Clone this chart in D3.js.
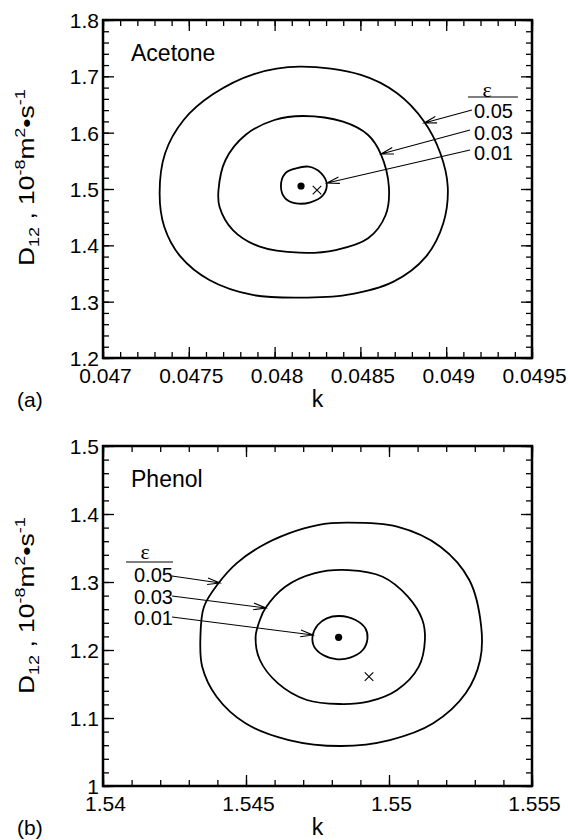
<!DOCTYPE html>
<html lang="en">
<head>
<meta charset="utf-8">
<title>D12 vs k</title>
<script src="https://cdn.jsdelivr.net/npm/d3@7"></script>
<style>
  body { margin: 0; background: #fff; }
  text { font-family: "Liberation Sans", Arial, sans-serif; fill: #000; }
  .tick line { stroke: #000; stroke-width: 1.3px; }
  .frame { fill: none; stroke: #000; stroke-width: 2.5px; }
  .contour { fill: none; stroke: #000; stroke-width: 1.8px; }
  .arrow { fill: none; stroke: #000; stroke-width: 1.1px; }
</style>
</head>
<body>
<div id="chart"></div>
<script>
// contour levels (epsilon)
var levels = ["0.05", "0.03", "0.01"];

// ---- (a) acetone ----
var acetoneXTicks = [0.047, 0.0475, 0.048, 0.0485, 0.049, 0.0495];
var acetoneXLabels = ["0.047", "0.0475", "0.048", "0.0485", "0.049", "0.0495"];
var acetoneYTicks = [1.2, 1.3, 1.4, 1.5, 1.6, 1.7, 1.8];
var acetoneYLabels = ["1.2", "1.3", "1.4", "1.5", "1.6", "1.7", "1.8"];

// contour points [k, D12]
var acetone05 = [[0.048146, 1.7171], [0.048503, 1.7024], [0.048714, 1.6699], [0.048872, 1.6195],
  [0.048966, 1.5634], [0.049009, 1.5041], [0.048983, 1.4391], [0.048882, 1.3799],
  [0.048693, 1.3355], [0.048420, 1.3119], [0.048146, 1.3071], [0.047872, 1.3119],
  [0.047620, 1.3385], [0.047452, 1.3799], [0.047357, 1.4331], [0.047330, 1.4924],
  [0.047362, 1.5634], [0.047470, 1.6225], [0.047640, 1.6680], [0.047880, 1.7040]];
var acetone03 = [[0.048167, 1.6296], [0.048399, 1.6195], [0.048545, 1.5959], [0.048619, 1.5621],
  [0.048666, 1.5041], [0.048647, 1.4539], [0.048545, 1.4125], [0.048356, 1.3917],
  [0.048146, 1.3869], [0.047914, 1.3976], [0.047757, 1.4272], [0.047679, 1.4686],
  [0.047673, 1.4982], [0.047714, 1.5515], [0.047830, 1.5959], [0.047999, 1.6225]];
var acetone01 = [[0.048125, 1.5367], [0.048199, 1.5396], [0.048272, 1.5279], [0.048304, 1.5089],
  [0.048283, 1.4894], [0.048209, 1.4764], [0.048125, 1.4746], [0.048062, 1.4835],
  [0.048037, 1.5041], [0.048062, 1.5279]];
var acetoneBest = [0.048154, 1.5053];
var acetoneCross = [0.048247, 1.498];
// leader arrows [kFrom, DFrom, kTo, DTo]
var acetoneArrows = [[0.049150, 1.6402, 0.048871, 1.6172],
  [0.049139, 1.6047, 0.048620, 1.5621],
  [0.049139, 1.5692, 0.048305, 1.5107]];
var acetoneLegendAt = [[0.049162, 1.6385], [0.049162, 1.5994], [0.049162, 1.5639]];
var acetoneEpsAt = [0.049238, 1.6757];
var acetoneRule = [0.049127, 0.049418, 1.6633];

// ---- (b) phenol ----
var phenolXTicks = [1.54, 1.545, 1.55, 1.555];
var phenolXLabels = ["1.54", "1.545", "1.55", "1.555"];
var phenolYTicks = [1.0, 1.1, 1.2, 1.3, 1.4, 1.5];
var phenolYLabels = ["1", "1.1", "1.2", "1.3", "1.4", "1.5"];

var phenol05 = [[1.548517, 1.3872], [1.550283, 1.3814], [1.551797, 1.3519], [1.552808, 1.3029],
  [1.553224, 1.2343], [1.553186, 1.1853], [1.552682, 1.1363], [1.551546, 1.0922],
  [1.550031, 1.0676], [1.548328, 1.0588], [1.546497, 1.0676], [1.544982, 1.0922],
  [1.543972, 1.1313], [1.543469, 1.1754], [1.543406, 1.2196], [1.543531, 1.2637],
  [1.544035, 1.2981], [1.544668, 1.3275], [1.545490, 1.3519], [1.546497, 1.3716],
  [1.547507, 1.3838]];
var phenol03 = [[1.548580, 1.3176], [1.549779, 1.3078], [1.550661, 1.2784], [1.551168, 1.2441],
  [1.551256, 1.2147], [1.551041, 1.1755], [1.550283, 1.1412], [1.549273, 1.1240],
  [1.548266, 1.1206], [1.547128, 1.1265], [1.546119, 1.1510], [1.545486, 1.1853],
  [1.545336, 1.2196], [1.545486, 1.2441], [1.545675, 1.2613], [1.546371, 1.2931],
  [1.547381, 1.3128]];
var phenol01 = [[1.548266, 1.2500], [1.548832, 1.2441], [1.549172, 1.2319], [1.549248, 1.2172],
  [1.549084, 1.2000], [1.548643, 1.1887], [1.548200, 1.1863], [1.547696, 1.1926],
  [1.547381, 1.2049], [1.547329, 1.2206], [1.547507, 1.2368], [1.547822, 1.2466]];
var phenolBest = [1.548238, 1.2187];
var phenolCross = [1.549301, 1.1608];
var phenolArrows = [[1.542413, 1.3088, 1.544091, 1.2985],
  [1.542413, 1.2794, 1.545699, 1.2618],
  [1.542413, 1.2485, 1.547343, 1.2221]];
var phenolLegendAt = [[1.541084, 1.3103], [1.541084, 1.2779], [1.541084, 1.2471]];
var phenolEpsAt = [1.541469, 1.3441];
var phenolRule = [1.540804, 1.542448, 1.3294];

var W = 568, H = 840;
var svg = d3.select("#chart").append("svg")
    .attr("width", W)
    .attr("height", H);

function drawPanel(p) {
  var left = 103, top = p.top, w = 429, h = p.h;
  var g = svg.append("g").attr("transform", "translate(" + left + "," + top + ")");

  var x = d3.scaleLinear().domain(p.xDomain).range([0, w]);
  var y = d3.scaleLinear().domain(p.yDomain).range([h, 0]);

  var minorX = d3.range(p.xMinorN + 1).map(function(i) { return p.xDomain[0] + i * (p.xDomain[1] - p.xDomain[0]) / p.xMinorN; });
  var minorY = d3.range(p.yMinorN + 1).map(function(i) { return p.yDomain[0] + i * (p.yDomain[1] - p.yDomain[0]) / p.yMinorN; });

  function ax(gen, scale, vals, size, labels, pad, tr) {
    var a = gen(scale).tickValues(vals).tickSize(-size).tickPadding(pad);
    a.tickFormat(labels ? function(d, i) { return labels[i]; } : "");
    var s = g.append("g").attr("transform", tr || null).call(a);
    s.select(".domain").remove();
    s.selectAll("text").style("font-size", "21px");
    return s;
  }
  // minor ticks, all four sides
  ax(d3.axisBottom, x, minorX, 6, null, 0, "translate(0," + h + ")");
  ax(d3.axisTop, x, minorX, 6, null, 0);
  ax(d3.axisLeft, y, minorY, 6, null, 0);
  ax(d3.axisRight, y, minorY, 6, null, 0, "translate(" + w + ",0)");
  // major ticks
  var xb = ax(d3.axisBottom, x, p.xTicks, 11, p.xLabels, 10, "translate(0," + h + ")");
  xb.selectAll("text").attr("x", 2);
  ax(d3.axisTop, x, p.xTicks, 11, null, 0);
  var yl = ax(d3.axisLeft, y, p.yTicks, 11, p.yLabels, 4);
  yl.selectAll("text").attr("dy", "0.36em");
  ax(d3.axisRight, y, p.yTicks, 11, null, 0, "translate(" + w + ",0)");

  g.append("rect").attr("class", "frame").attr("width", w).attr("height", h);

  var line = d3.line()
      .x(function(d) { return x(d[0]); })
      .y(function(d) { return y(d[1]); })
      .curve(d3.curveCatmullRomClosed.alpha(0.5));

  g.selectAll(".contour").data(p.contours).enter().append("path")
      .attr("class", "contour")
      .attr("d", line);

  g.append("circle")
      .attr("cx", x(p.best[0])).attr("cy", y(p.best[1])).attr("r", 3.6);

  var cx = x(p.cross[0]), cy = y(p.cross[1]), c = 4.3;
  g.append("path").attr("class", "arrow").attr("stroke-width", 1.2)
      .attr("d", "M" + (cx - c) + "," + (cy - c) + "L" + (cx + c) + "," + (cy + c) +
                 "M" + (cx - c) + "," + (cy + c) + "L" + (cx + c) + "," + (cy - c));

  // leader arrows with open heads
  p.arrows.forEach(function(a) {
    var x1 = x(a[0]), y1 = y(a[1]), x2 = x(a[2]), y2 = y(a[3]);
    var ang = Math.atan2(y2 - y1, x2 - x1), L = 13, th = 0.26;
    var b1 = [x2 - L * Math.cos(ang - th), y2 - L * Math.sin(ang - th)];
    var b2 = [x2 - L * Math.cos(ang + th), y2 - L * Math.sin(ang + th)];
    g.append("path").attr("class", "arrow")
        .attr("d", "M" + x1 + "," + y1 + "L" + x2 + "," + y2 +
                   "M" + b1 + "L" + x2 + "," + y2 + "L" + b2);
  });

  g.selectAll(".lev").data(levels).enter().append("text")
      .attr("class", "lev")
      .attr("x", function(d, i) { return x(p.legendAt[i][0]); })
      .attr("y", function(d, i) { return y(p.legendAt[i][1]); })
      .attr("dy", "0.36em")
      .style("font-size", "20px")
      .text(function(d) { return d; });

  g.append("text")
      .attr("x", x(p.epsAt[0])).attr("y", y(p.epsAt[1])).attr("dy", "0.3em")
      .attr("text-anchor", "middle")
      .style("font-family", "'Liberation Serif', serif").style("font-size", "22px")
      .text("ε");
  g.append("line")
      .attr("x1", x(p.rule[0])).attr("x2", x(p.rule[1]))
      .attr("y1", y(p.rule[2])).attr("y2", y(p.rule[2]))
      .attr("stroke", "#000").attr("stroke-width", 1.1);

  g.append("text").attr("x", 28).attr("y", 41).style("font-size", "23px").text(p.name);

  g.append("text").attr("x", w / 2).attr("y", h + 49)
      .attr("text-anchor", "middle").style("font-size", "23px").text("k");
  g.append("text").attr("x", 17 - left).attr("y", h + 49)
      .style("font-size", "21px").text(p.tag);

  // y axis title
  var t = g.append("text")
      .attr("transform", "translate(" + (34 - left) + "," + (h - 92) + ") rotate(-90) scale(1.2,1)")
      .style("font-size", "22px");
  t.append("tspan").text("D");
  t.append("tspan").attr("dy", 5).style("font-size", "15px").text("12");
  t.append("tspan").attr("dy", -5).text(" , 10");
  t.append("tspan").attr("dy", -9).style("font-size", "15px").text("-8");
  t.append("tspan").attr("dy", 9).text("m");
  t.append("tspan").attr("dy", -9).style("font-size", "15px").text("2");
  t.append("tspan").attr("dy", 9).text("\u2022s");
  t.append("tspan").attr("dy", -9).style("font-size", "15px").text("-1");
}

drawPanel({
  top: 20, h: 338, name: "Acetone", tag: "(a)",
  xDomain: [0.047, 0.0495], yDomain: [1.2, 1.8], xMinorN: 25, yMinorN: 30,
  xTicks: acetoneXTicks, xLabels: acetoneXLabels, yTicks: acetoneYTicks, yLabels: acetoneYLabels,
  contours: [acetone05, acetone03, acetone01], best: acetoneBest, cross: acetoneCross,
  arrows: acetoneArrows, legendAt: acetoneLegendAt, epsAt: acetoneEpsAt, rule: acetoneRule
});

drawPanel({
  top: 446, h: 340, name: "Phenol", tag: "(b)",
  xDomain: [1.54, 1.555], yDomain: [1.0, 1.5], xMinorN: 15, yMinorN: 25,
  xTicks: phenolXTicks, xLabels: phenolXLabels, yTicks: phenolYTicks, yLabels: phenolYLabels,
  contours: [phenol05, phenol03, phenol01], best: phenolBest, cross: phenolCross,
  arrows: phenolArrows, legendAt: phenolLegendAt, epsAt: phenolEpsAt, rule: phenolRule
});
</script>
</body>
</html>
